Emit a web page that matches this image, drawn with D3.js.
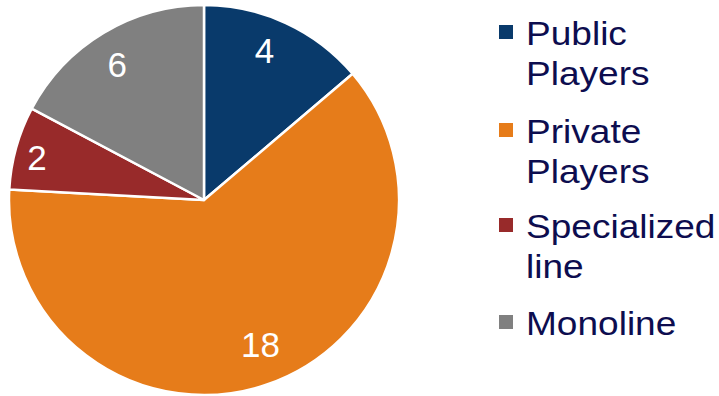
<!DOCTYPE html>
<html><head><meta charset="utf-8">
<script src="https://cdn.jsdelivr.net/npm/d3@7"></script>
<style>html,body{margin:0;padding:0;background:#fff}svg{display:block}</style>
</head><body>
<svg id="chart" width="719" height="396"></svg>
<script>
const categories = ["Public Players", "Private Players", "Specialized line", "Monoline"];
const legendLines = [["Public", "Players"], ["Private", "Players"], ["Specialized", "line"], ["Monoline"]];
const values = [4, 18, 2, 5];
// data labels as printed on the slices
const dataLabels = ["4", "18", "2", "6"];
const colors = ["#093a6b", "#e67c1a", "#982a2a", "#808080"];

const svg = d3.select("#chart");
const cx = 204, cy = 200, R = 195;
const font = "'Liberation Sans', Arial, sans-serif";

const pie = d3.pie().sort(null).value(d => d)(values);
const arc = d3.arc().innerRadius(0).outerRadius(R);

const g = svg.append("g").attr("transform", `translate(${cx},${cy})`);
g.selectAll("path").data(pie).join("path")
  .attr("d", arc)
  .attr("fill", (d, i) => colors[i])
  .attr("stroke", "#fff").attr("stroke-width", 2.5).attr("stroke-linejoin", "round");

g.selectAll("text").data(pie).join("text")
  .attr("transform", d => {
    const span = d.endAngle - d.startAngle;
    const r = R * (span < 0.6 ? 0.88 : 0.81);
    const a = (d.startAngle + d.endAngle) / 2 - 0.04;
    return `translate(${r * Math.sin(a)},${-r * Math.cos(a)})`;
  })
  .attr("text-anchor", "middle").attr("dy", "0.26em")
  .attr("fill", "#fff").attr("font-family", font).attr("font-size", 35)
  .text((d, i) => dataLabels[i]);

// legend
const itemBase = [45, 143, 238, 335];
const lg = svg.append("g");
categories.forEach((c, i) => {
  const base = itemBase[i];
  lg.append("rect").attr("x", 499).attr("y", base - 20).attr("width", 14).attr("height", 14).attr("fill", colors[i]);
  const t = lg.append("text")
    .attr("transform", `translate(526,${base}) scale(1.09,1)`)
    .attr("font-family", font).attr("font-size", 34).attr("fill", "#0d0d4f");
  legendLines[i].forEach((ln, j) => {
    t.append("tspan").attr("x", 0).attr("y", j * 40).text(ln);
  });
});
</script>
</body></html>
